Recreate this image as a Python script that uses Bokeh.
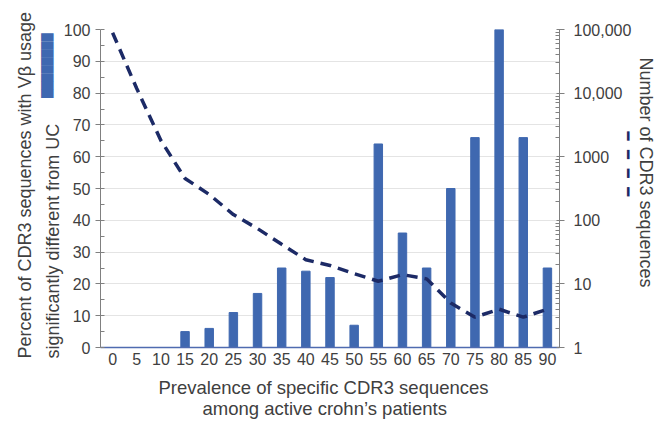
import math
from bokeh.plotting import figure
from bokeh.models import (FactorRange, Range1d, LogScale, LogAxis, FixedTicker,
                          SingleIntervalTicker, CustomJSTickFormatter, Title)
from bokeh.embed import file_html
from bokeh.resources import INLINE

categories = ["0", "5", "10", "15", "20", "25", "30", "35", "40", "45",
              "50", "55", "60", "65", "70", "75", "80", "85", "90"]
percent_vals = [0, 0, 0, 5, 6, 11, 17, 25, 24, 22, 7, 64, 36, 25, 50, 66, 100, 66, 25]
cdr3_counts = [89000, 11800, 1800, 455, 255, 123, 74, 42, 24, 19.5, 14.5,
               11, 14, 12, 5, 3, 4, 3, 4]
right_ticks = [1, 10, 100, 1000, 10000, 100000]

FONT = "Liberation Sans"
TXT = "#404040"
BAR = "#3f68b0"
LINE = "#1c2a66"
W, H = 667, 423
FL, FT, FR, FB = 100, 29, 559, 347  # frame edges in canvas pixels

p = figure(width=W, height=H, x_range=FactorRange(factors=categories),
           y_range=Range1d(0, 100), output_backend="svg", toolbar_location=None,
           min_border_left=FL, min_border_right=W - FR, min_border_top=FT,
           min_border_bottom=H - FB)
p.extra_y_ranges = {"log": Range1d(1, 100000)}
p.extra_y_scales = {"log": LogScale()}
p.outline_line_color = None
p.background_fill_color = "white"

p.vbar(x=categories, top=percent_vals, width=0.35, color=BAR)
p.line(x=categories, y=cdr3_counts, y_range_name="log", line_color=LINE,
       line_width=3.5, line_dash="11 7", line_cap="butt")

# grid
p.xgrid.grid_line_color = None
p.ygrid.grid_line_color = "#e4e4e4"
p.ygrid.grid_line_width = 1

# left axis
ya = p.yaxis[0]
ya.ticker = SingleIntervalTicker(interval=10, num_minor_ticks=2)
ya.axis_line_color = "#808080"
ya.major_tick_line_color = "#808080"
ya.minor_tick_line_color = "#808080"
ya.major_tick_out = 5
ya.major_tick_in = 0
ya.minor_tick_in = 4
ya.minor_tick_out = 0
ya.major_label_standoff = 5
ya.major_label_text_font = FONT
ya.major_label_text_font_size = "16px"
ya.major_label_text_color = TXT

# bottom axis
xa = p.xaxis[0]
xa.axis_line_color = "#4f6bb0"
xa.axis_line_width = 1.5
xa.major_tick_line_color = None
xa.minor_tick_line_color = None
xa.major_tick_out = 0
xa.major_label_standoff = 5
xa.major_label_text_font = FONT
xa.major_label_text_font_size = "16px"
xa.major_label_text_color = TXT

# right log axis
minor = [m * 10 ** d for d in range(5) for m in range(2, 10)]
ra = LogAxis(y_range_name="log",
             ticker=FixedTicker(ticks=right_ticks, minor_ticks=minor),
             formatter=CustomJSTickFormatter(code="""
                 const v = Math.round(tick);
                 return v >= 10000 ? v.toLocaleString('en-US') : v.toString();
             """))
ra.axis_line_color = "#808080"
ra.major_tick_line_color = "#808080"
ra.minor_tick_line_color = "#808080"
ra.major_tick_out = 5
ra.major_tick_in = 3
ra.minor_tick_in = 4
ra.minor_tick_out = 0
ra.major_label_standoff = 9
ra.major_label_text_font = FONT
ra.major_label_text_font_size = "16px"
ra.major_label_text_color = TXT
p.add_layout(ra, "right")


def title(text, side, align="left", offset=0, standoff=2, size="18px", color=TXT,
          font=FONT):
    p.add_layout(Title(text=text, align=align, offset=offset, standoff=standoff,
                       text_font=font, text_font_size=size, text_color=color,
                       text_font_style="normal"), side)


NB = "\u00a0\u00a0"

# left side (from frame outward)
title("significantly different from UC", "left", "left", offset=-11, standoff=-4)
title("\u2588" * 8, "left", "right", offset=4, standoff=-20, size="10.5px",
      color=BAR, font="DejaVu Sans")
title("Percent of CDR3 sequences with V\u03b2 usage", "left", "left", offset=-11,
      standoff=14.5)

# right side
title(NB.join(["\u2501"] * 4), "right", "left", offset=102, standoff=-31.5,
      size="15px", color=LINE, font="DejaVu Sans")
title("Number of CDR3 sequences", "right", "left", offset=28, standoff=2)

# bottom
title("Prevalence of specific CDR3 sequences", "below", "left", offset=58,
      standoff=15, size="18.5px")
title("among active crohn\u2019s patients", "below", "left", offset=102,
      standoff=-19, size="18.5px")

open("out.html", "w").write(file_html(p, INLINE))
